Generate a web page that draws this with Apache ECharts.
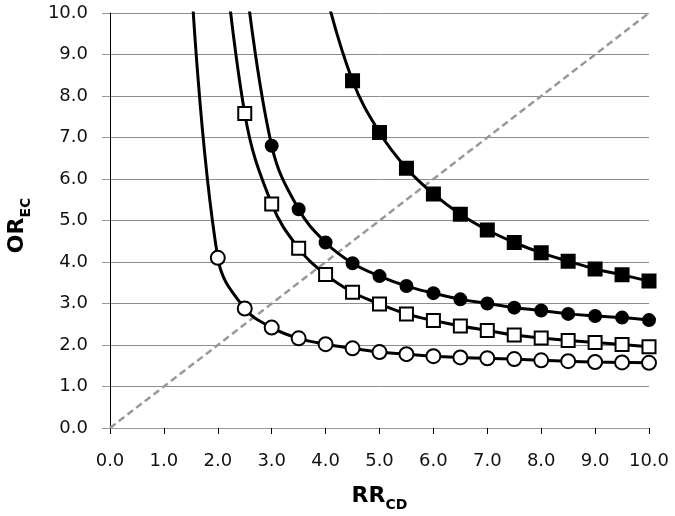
<!DOCTYPE html>
<html>
  <head>
    <meta charset="utf-8" />
    <title>OR_EC vs RR_CD</title>
    <script src="https://cdn.jsdelivr.net/npm/echarts@6/dist/echarts.min.js"></script>
    <style>
      html,
      body {
        margin: 0;
        padding: 0;
        background: #fff;
      }
      #chart {
        width: 675px;
        height: 516px;
      }
    </style>
  </head>
  <body>
    <div id="chart"></div>
    <script>
      // x values (RR_CD); first entry is the off-scale lead-in for the steep curves
      var rrCD = [1.5, 2.0, 2.5, 3.0, 3.5, 4.0, 4.5, 5.0, 5.5, 6.0, 6.5, 7.0, 7.5, 8.0, 8.5, 9.0, 9.5, 10.0];
      var openCircle = [11, 4.10, 2.88, 2.42, 2.16, 2.02, 1.92, 1.83, 1.78, 1.73, 1.70, 1.68, 1.66, 1.63, 1.61, 1.59, 1.58, 1.57];
      var openSquare = [null, 13, 7.58, 5.40, 4.33, 3.70, 3.27, 2.99, 2.75, 2.59, 2.46, 2.35, 2.24, 2.17, 2.11, 2.06, 2.01, 1.96];
      var filledCircle = [null, null, 11, 6.80, 5.27, 4.47, 3.97, 3.66, 3.42, 3.25, 3.10, 3.00, 2.90, 2.83, 2.75, 2.70, 2.66, 2.60];
      var filledSquare = [null, null, null, null, null, 10.5, 8.37, 7.12, 6.26, 5.64, 5.15, 4.77, 4.47, 4.22, 4.02, 3.83, 3.69, 3.54];
      var diagonal = [0, 10];

      function pairs(vals) {
        var out = [];
        for (var i = 0; i < rrCD.length; i++) {
          if (vals[i] != null) out.push([rrCD[i], vals[i]]);
        }
        return out;
      }

      function curve(vals, symbol, size, fill) {
        return {
          type: "line",
          data: pairs(vals),
          smooth: 0.4,
          symbol: symbol,
          symbolSize: size,
          showAllSymbol: true,
          clip: true,
          lineStyle: { color: "#000", width: 3 },
          itemStyle: { color: fill, borderColor: "#000", borderWidth: 2 },
          z: 3
        };
      }

      var font = "DejaVu Sans";
      var chart = echarts.init(document.getElementById("chart"));
      chart.setOption({
        animation: false,
        grid: { left: 110, right: 26, top: 13, bottom: 88, containLabel: false, outerBoundsMode: "none" },
        xAxis: {
          type: "value",
          min: 0,
          max: 10,
          interval: 1,
          name: "{a|RR}{b|CD}",
          nameLocation: "middle",
          nameGap: 57,
          nameTextStyle: {
            rich: {
              a: { fontFamily: font, fontSize: 22, fontWeight: "bold", color: "#000", verticalAlign: "bottom", padding: [0, 0, 5, 0] },
              b: { fontFamily: font, fontSize: 14, fontWeight: "bold", color: "#000", verticalAlign: "bottom" }
            }
          },
          axisLine: { onZero: false, lineStyle: { color: "#999", width: 1 } },
          axisTick: { show: true, length: 6, lineStyle: { color: "#000" } },
          axisLabel: {
            margin: 24,
            fontFamily: font,
            fontSize: 18,
            color: "#111",
            formatter: function (v) { return v.toFixed(1); }
          },
          splitLine: { show: false }
        },
        yAxis: {
          type: "value",
          min: 0,
          max: 10,
          interval: 1,
          name: "{a|OR}{b|EC}",
          nameLocation: "middle",
          nameRotate: 90,
          nameGap: 77,
          nameTextStyle: {
            rich: {
              a: { fontFamily: font, fontSize: 22, fontWeight: "bold", color: "#000", verticalAlign: "bottom", padding: [0, 0, 5, 0] },
              b: { fontFamily: font, fontSize: 14, fontWeight: "bold", color: "#000", verticalAlign: "bottom", padding: [0, 10, 0, 0] }
            }
          },
          axisLine: { show: true, onZero: false, lineStyle: { color: "#000", width: 1 } },
          axisTick: { show: true, length: 8, lineStyle: { color: "#999" } },
          axisLabel: {
            margin: 22,
            fontFamily: font,
            fontSize: 18,
            color: "#111",
            formatter: function (v) { return v.toFixed(1); }
          },
          splitLine: { show: true, lineStyle: { color: "#8c8c8c", width: 1 } }
        },
        series: [
          {
            type: "line",
            data: [[diagonal[0], diagonal[0]], [diagonal[1], diagonal[1]]],
            symbol: "none",
            lineStyle: { color: "#999", width: 2.5, type: [7, 4] },
            z: 2
          },
          curve(openCircle, "circle", 14, "#fff"),
          curve(openSquare, "rect", 13, "#fff"),
          curve(filledCircle, "circle", 12, "#000"),
          curve(filledSquare, "rect", 13, "#000")
        ]
      });
    </script>
  </body>
</html>
